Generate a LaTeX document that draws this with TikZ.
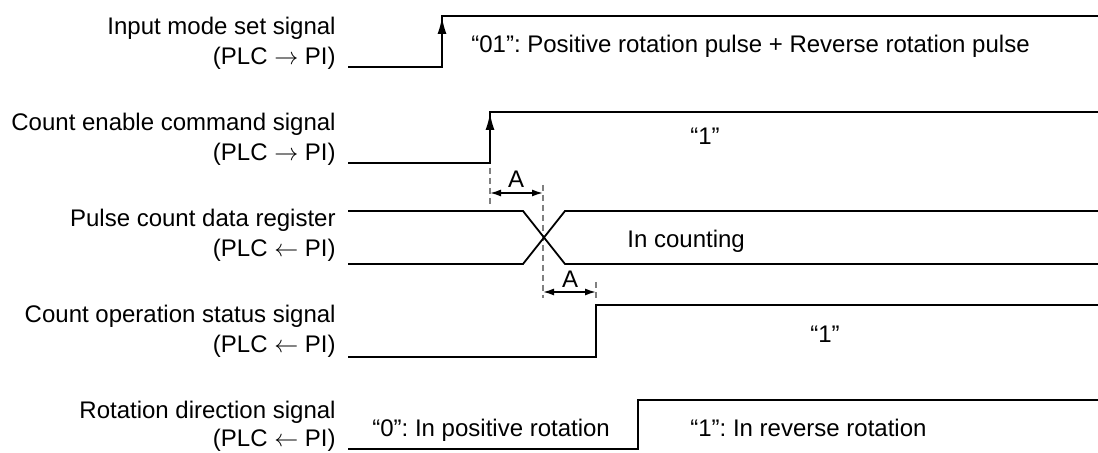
\documentclass[tikz,border=0pt]{standalone}
\usepackage{fontspec}
\setmainfont{Liberation Sans}
\usetikzlibrary{arrows.meta}
\frenchspacing
\begin{document}
\begin{tikzpicture}[x=0.5pt,y=-0.5pt,
  sig/.style={line width=0.9pt, line join=miter},
  lbl/.style={anchor=base east, inner sep=0pt, font=\fontsize{12}{14}\selectfont},
  txt/.style={anchor=base west, inner sep=0pt, font=\fontsize{12}{14}\selectfont},
  edgearrow/.style={line width=0.9pt, -{Latex[length=8.5pt,width=4.5pt]}},
  dim/.style={line width=0.8pt, {Latex[length=5.5pt,width=3.5pt]}-{Latex[length=5.5pt,width=3.5pt]}},
  guide/.style={gray, line width=0.6pt, dash pattern=on 3pt off 2pt}]
\useasboundingbox (0,0) rectangle (1098,453);

% labels
\node[lbl] (l1a) at (336,35) {Input mode set signal};
\node[lbl] (l1b) at (336,65) {(PLC $\rightarrow$ PI)};
\node[lbl] (l2a) at (336,131) {Count enable command signal};
\node[lbl] (l2b) at (336,161) {(PLC $\rightarrow$ PI)};
\node[lbl] (l3a) at (336,227) {Pulse count data register};
\node[lbl] (l3b) at (336,257) {(PLC $\leftarrow$ PI)};
\node[lbl] (l4a) at (336,323) {Count operation status signal};
\node[lbl] (l4b) at (336,353) {(PLC $\leftarrow$ PI)};
\node[lbl] (l5a) at (336,419) {Rotation direction signal};
\node[lbl] (l5b) at (336,447) {(PLC $\leftarrow$ PI)};

% signal 1
\draw[sig] (348,67) -- (442,67) -- (442,16) -- (1098,16);
\draw[edgearrow] (442,50) -- (442,17);
\node[txt] (t1) at (471,53) {“01”: Positive rotation pulse + Reverse rotation pulse};

% signal 2
\draw[sig] (348,163) -- (490,163) -- (490,112) -- (1098,112);
\draw[edgearrow] (490,146) -- (490,113);
\node[txt] (t2) at (690,145) {“1”};

% guides and A dimensions
\coordinate (g1t) at (490,168);
\coordinate (g1b) at (490,204);
\coordinate (g2t) at (543,185);
\coordinate (g2b) at (543,298);
\coordinate (g3t) at (596,282);
\coordinate (g3b) at (596,299);
\draw[guide] (g1t) -- (g1b);
\draw[guide] (g2t) -- (g2b);
\draw[guide] (g3t) -- (g3b);
\coordinate (a1l) at (490,193);
\coordinate (a1r) at (543,193);
\draw[dim] (a1l) -- (a1r);
\node[txt, anchor=base] (A1) at (516,188) {A};
\coordinate (a2l) at (543,292);
\coordinate (a2r) at (596,292);
\draw[dim] (a2l) -- (a2r);
\node[txt, anchor=base] (A2) at (570,288) {A};

% signal 3
\draw[sig] (348,211) -- (523,211) -- (565,264) -- (1098,264);
\draw[sig] (348,264) -- (523,264) -- (565,211) -- (1098,211);
\node[txt] (t3) at (627,248) {In counting};

% signal 4
\draw[sig] (348,357) -- (596,357) -- (596,305) -- (1098,305);
\node[txt] (t4) at (810,343) {“1”};

% signal 5
\draw[sig] (348,449) -- (638,449) -- (638,400) -- (1098,400);
\node[txt] (t5a) at (372,437) {“0”: In positive rotation};
\node[txt] (t5b) at (690,437) {“1”: In reverse rotation};
\end{tikzpicture}
\end{document}
